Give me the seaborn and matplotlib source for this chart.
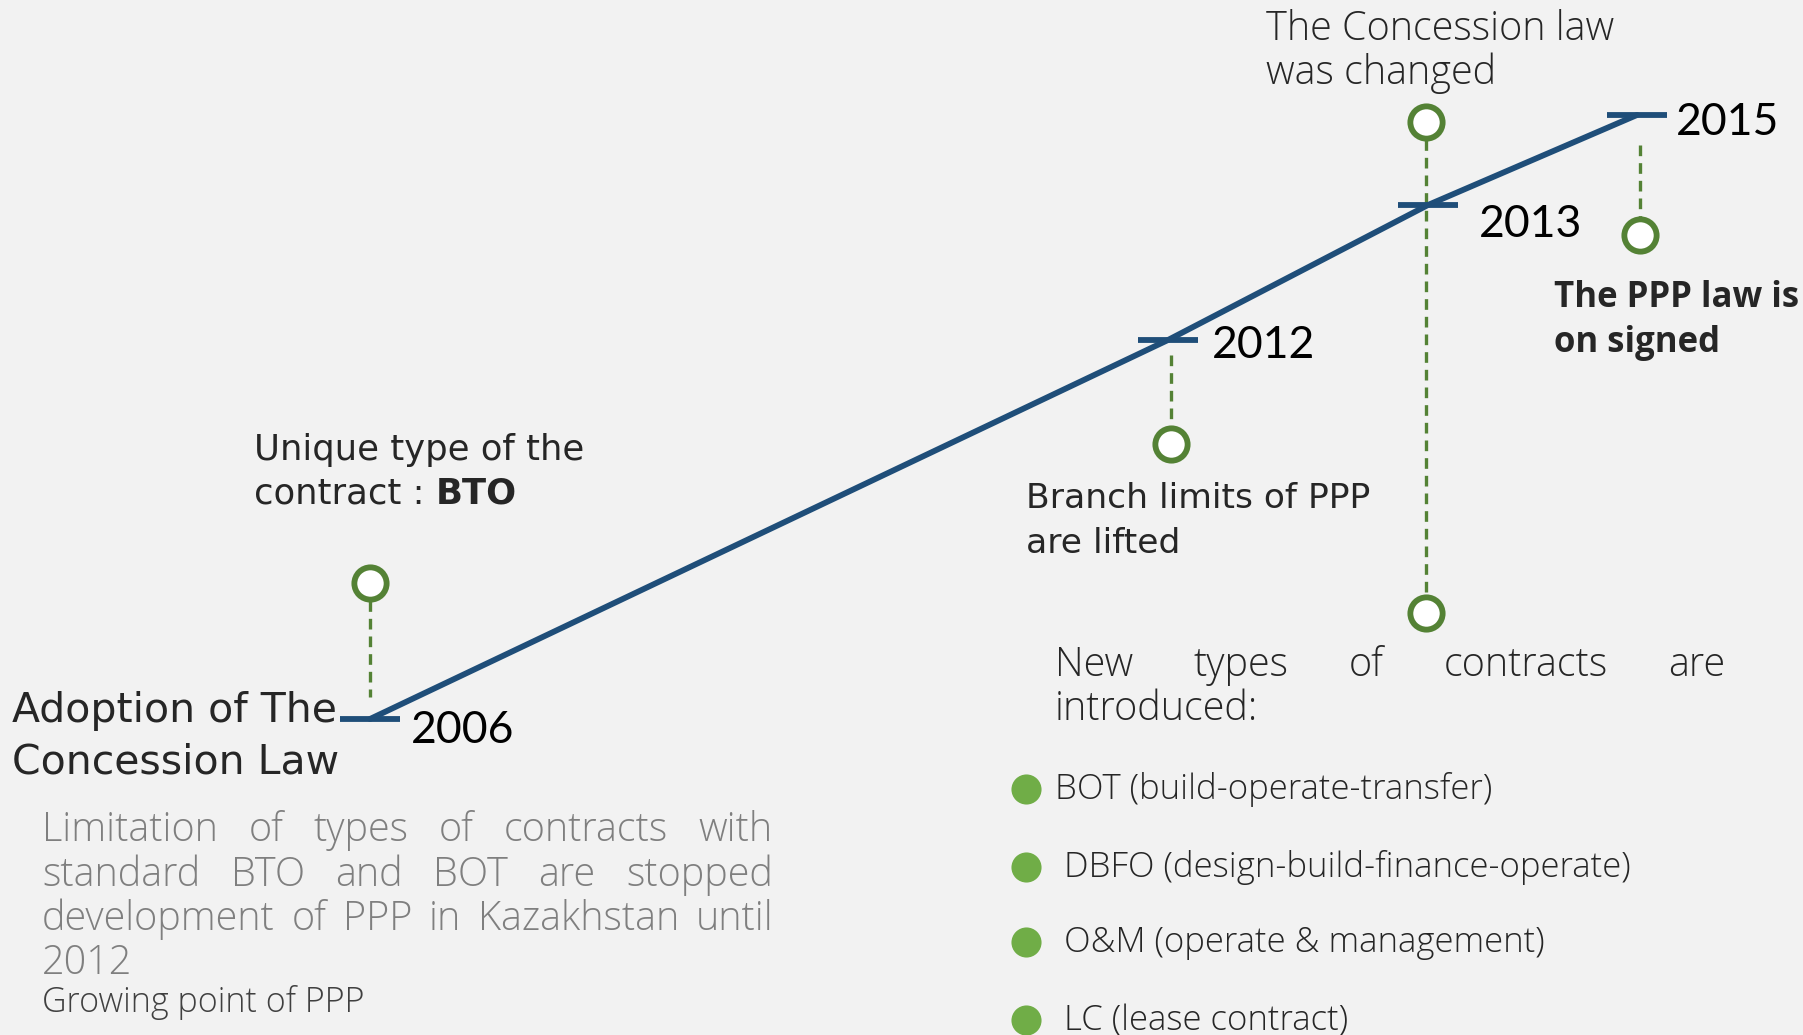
import matplotlib
matplotlib.use("Agg")
import matplotlib.pyplot as plt
import seaborn as sns
import pandas as pd

# timeline stops (pixel space of the 1803x1035 slide)
years = ["2006", "2012", "2013", "2015"]
year_x = [370, 1168, 1428, 1637]
year_y = [719, 340, 205, 115]
year_label_x = [411, 1212, 1479, 1676]
year_label_y = [743, 358, 237, 135]

# open green circles (events) and their dashed stems
event_x = [370, 1171, 1426, 1426, 1640]
event_y = [583, 444, 122, 613, 235]
stem_x = [370, 1171, 1426, 1640]
stem_top = [583, 355, 122, 145]
stem_bottom = [697, 444, 613, 235]

contract_types = [
    "BOT (build-operate-transfer)",
    " DBFO (design-build-finance-operate)",
    " O&M (operate & management)",
    " LC (lease contract)",
]
contract_y = [789, 867, 942, 1020]

limitation_lines = [
    "Limitation of types of contracts with",
    "standard BTO and BOT are stopped",
    "development of PPP in Kazakhstan until",
    "2012",
]

BG = "#f2f2f2"
BLUE = "#1f4e79"
GREEN = "#548235"
LIGHT_GREEN = "#70ad47"
ROUND = ["DejaVu Sans"]
THIN = ["Open Sans", "DejaVu Sans"]

sns.set_theme(style="white")
plt.rcParams["font.family"] = ["Lato", "DejaVu Sans"]

fig = plt.figure(figsize=(18.03, 10.35), dpi=100, facecolor=BG)
ax = fig.add_axes([0, 0, 1, 1])
ax.set_facecolor(BG)
ax.set_xlim(0, 1803)
ax.set_ylim(1035, 0)
ax.axis("off")

tl = pd.DataFrame({"year": years, "x": year_x, "y": year_y})

# dashed stems first so the circles sit on top
for x, y0, y1 in zip(stem_x, stem_top, stem_bottom):
    ax.plot([x, x], [y0, y1], color=GREEN, lw=2.4, linestyle=(0, (3.2, 2.1)), zorder=1)

sns.lineplot(data=tl, x="x", y="y", sort=False, color=BLUE, lw=4.2, ax=ax, zorder=2)
for x, y in zip(year_x, year_y):
    ax.plot([x - 30, x + 30], [y, y], color=BLUE, lw=4.2, solid_capstyle="butt", zorder=2)

ev = pd.DataFrame({"x": event_x, "y": event_y})
sns.scatterplot(data=ev, x="x", y="y", s=540, color="white", edgecolor=GREEN,
                linewidth=4.2, ax=ax, zorder=4)

# year labels
for lab, x, y in zip(years, year_label_x, year_label_y):
    ax.text(x, y, lab, fontsize=32, va="baseline", color="black")

renderer = fig.canvas.get_renderer()

# event captions
ax.text(12, 722, "Adoption of The", fontsize=29.5, va="baseline", family=ROUND)
ax.text(12, 773, "Concession Law", fontsize=29.5, va="baseline", family=ROUND)

ax.text(254, 460, "Unique type of the", fontsize=25.5, va="baseline", family=ROUND)
t = ax.text(254, 503, "contract :", fontsize=25.5, va="baseline", family=ROUND)
bto_x = 254 + t.get_window_extent(renderer).width + 11
ax.text(bto_x, 503, "BTO", fontsize=25.5, va="baseline", fontweight="bold", family=ROUND)

ax.text(1026, 508, "Branch limits of PPP", fontsize=24.8, va="baseline", family=ROUND)
ax.text(1026, 553, "are lifted", fontsize=24.8, va="baseline", family=ROUND)

ax.text(1266, 40, "The Concession law", fontsize=28.5, va="baseline", family=THIN, fontweight="light")
ax.text(1266, 84, "was changed", fontsize=28.5, va="baseline", family=THIN, fontweight="light")

ax.text(1554, 307, "The PPP law is", fontsize=25, va="baseline", fontweight="bold", family=THIN)
ax.text(1554, 352, "on signed", fontsize=25, va="baseline", fontweight="bold", family=THIN)


def justify(words, x0, x1, y, **kw):
    arts = [ax.text(0, y, w, va="baseline", **kw) for w in words]
    widths = [a.get_window_extent(renderer).width for a in arts]
    gap = (x1 - x0 - sum(widths)) / max(len(arts) - 1, 1)
    x = x0
    for a, w in zip(arts, widths):
        a.set_x(x)
        x += w + gap


justify("New types of contracts are".split(), 1055, 1725, 676, fontsize=28.5,
        family=THIN, fontweight="light")
ax.text(1055, 720, "introduced:", fontsize=28.5, va="baseline", family=THIN, fontweight="light")

bul = pd.DataFrame({"x": [1026] * len(contract_y), "y": contract_y})
sns.scatterplot(data=bul, x="x", y="y", s=470, color=LIGHT_GREEN, linewidth=0, ax=ax, zorder=3)
for lab, y in zip(contract_types, contract_y):
    ax.text(1055, y + 10, lab, fontsize=25, va="baseline", family=THIN, fontweight="light")

for i, line in enumerate(limitation_lines):
    y = 841 + 44.5 * i
    if i < len(limitation_lines) - 1:
        justify(line.split(), 42, 773, y, fontsize=28.5, color="#7f7f7f",
                family=THIN, fontweight="light")
    else:
        ax.text(42, y, line, fontsize=28.5, va="baseline", color="#7f7f7f",
                family=THIN, fontweight="light")
ax.text(42, 1012, "Growing point of PPP", fontsize=24.5, va="baseline", color="#404040",
        family=THIN, fontweight="light")

fig.savefig("out.png", dpi=100, facecolor=BG)
